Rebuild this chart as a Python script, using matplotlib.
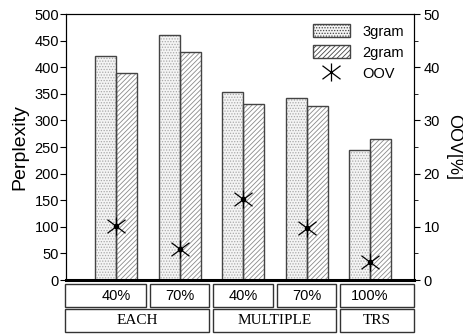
import matplotlib
matplotlib.use("Agg")
import matplotlib.pyplot as plt
import matplotlib.transforms as mtransforms
from matplotlib.patches import Rectangle, Patch
from matplotlib.lines import Line2D
from matplotlib.path import Path
import numpy as np

# data
settings = ["40%", "70%", "40%", "70%", "100%"]
groups = ["EACH", "MULTIPLE", "TRS"]
group_spans = [(0, 1), (2, 3), (4, 4)]
ppl_3gram = [422, 461, 353, 343, 245]
ppl_2gram = [389, 428, 331, 327, 265]
oov = [10.2, 5.8, 15.2, 9.8, 3.4]

plt.rcParams['font.family'] = ['Liberation Sans', 'DejaVu Sans']
plt.rcParams['hatch.linewidth'] = 0.6

# asterisk: vertical stroke plus two wide diagonals
star = Path([(0, -1), (0, 1), (-1, -0.75), (1, 0.75), (-1, 0.75), (1, -0.75)],
            [Path.MOVETO, Path.LINETO] * 3)

fig = plt.figure(figsize=(4.63, 3.35), dpi=100)
ax = fig.add_axes([0.1425, 0.164, 0.7515, 0.794])

x = np.arange(len(settings))
w = 0.33
# hatch layers (hatch takes the edge colour), then dark outlines on top
ax.bar(x - w / 2, ppl_3gram, w, facecolor='#f4f4f4', edgecolor='#a8a8a8',
       hatch='......', lw=0)
ax.bar(x + w / 2, ppl_2gram, w, facecolor='white', edgecolor='#8a8a8a',
       hatch='///////', lw=0)
ax.bar(x - w / 2, ppl_3gram, w, fill=False, edgecolor='#444444', lw=1.0)
ax.bar(x + w / 2, ppl_2gram, w, fill=False, edgecolor='#444444', lw=1.0)

ax.set_xlim(-0.79, 4.69)
ax.set_ylim(0, 500)
ax.set_yticks(range(0, 501, 50))
ax.set_xticks([])
ax.tick_params(axis='y', direction='out', length=4, labelsize=10.5, pad=1)
ax.set_ylabel("Perplexity", fontsize=14, labelpad=4)
ax.spines['bottom'].set_linewidth(2.2)

ax2 = ax.twinx()
ax2.set_ylim(0, 50)
ax2.set_yticks(range(0, 51, 10))
ax2.set_yticks(range(5, 50, 10), minor=True)
ax2.tick_params(axis='y', which='major', direction='out', length=4,
                labelsize=10.5, pad=3)
ax2.tick_params(axis='y', which='minor', direction='out', length=3)
ax2.plot(x, oov, ls='none', marker=star, ms=13, mew=0.9, color='black')
ax2.plot(x, oov, ls='none', marker='o', ms=3, color='black')
ax2.set_ylabel("OOV[%]", fontsize=13, rotation=-90, labelpad=16)

handles = [
    Patch(facecolor='#f4f4f4', edgecolor='#444444', hatch='......', lw=1.0),
    Patch(facecolor='white', edgecolor='#444444', hatch='///////', lw=1.0),
    Line2D([], [], ls='none', marker=star, ms=13, mew=0.9, color='black'),
]
ax2.legend(handles, ['3gram', '2gram', 'OOV'], loc='upper right',
           frameon=False, fontsize=10.5, handlelength=2.6, handleheight=1.0,
           labelspacing=0.45, borderaxespad=0.3)

# category table under the axis
trans = mtransforms.blended_transform_factory(ax.transData, ax.transAxes)
left, right = ax.get_xlim()
edges = [left] + [i + 0.5 for i in range(len(settings) - 1)] + [right]
gap = 0.03
row_h = 0.088
for i, lab in enumerate(settings):
    x0 = edges[i] + (gap if i > 0 else -0.02)
    x1 = edges[i + 1] - (gap if i < len(settings) - 1 else 0)
    ax.add_patch(Rectangle((x0, -0.015 - row_h), x1 - x0, row_h,
                           transform=trans, clip_on=False,
                           facecolor='white', edgecolor='#333333', lw=1.0))
    ax.text(x[i], -0.015 - row_h / 2, lab, transform=trans,
            ha='center', va='center', fontsize=10.5)
for lab, (a, b) in zip(groups, group_spans):
    x0 = edges[a] + (gap if a > 0 else -0.02)
    x1 = edges[b + 1] - (gap if b < len(settings) - 1 else 0)
    ax.add_patch(Rectangle((x0, -0.02 - 2 * row_h), x1 - x0, row_h,
                           transform=trans, clip_on=False,
                           facecolor='white', edgecolor='#333333', lw=1.0))
    ax.text((x0 + x1) / 2, -0.02 - 1.5 * row_h, lab, transform=trans,
            ha='center', va='center', fontsize=11,
            family=['Liberation Serif', 'DejaVu Serif'])

fig.savefig("out.png", dpi=100)
